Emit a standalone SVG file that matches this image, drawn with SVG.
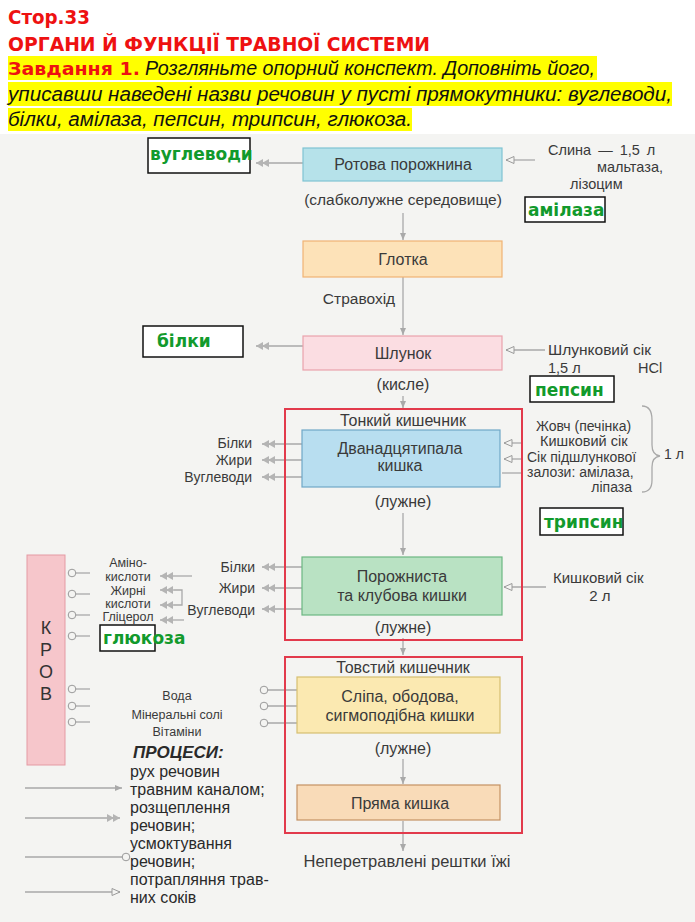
<svg xmlns="http://www.w3.org/2000/svg" width="695" height="922" viewBox="0 0 695 922">
<style>
.t{font-family:"Liberation Sans",Arial,sans-serif;font-size:14px;fill:#3a3a3a}
.b{font-size:16px}
.j{font-size:15px}
.p{font-size:12.5px}
.c{text-anchor:middle}
.e{text-anchor:end}
.g{font-family:"DejaVu Sans",Verdana,sans-serif;font-weight:bold;fill:#129a2c;font-size:17px}
.ans{fill:#fff;stroke:#111;stroke-width:1.5}
.ln{stroke:#a9a9a9;stroke-width:1.3;fill:none}
.red{fill:none;stroke:#e23a4c;stroke-width:2}
.hd{font-family:"DejaVu Sans",Verdana,sans-serif;font-weight:bold;fill:#ee1111}
.it{font-family:"Liberation Sans",Arial,sans-serif;font-style:italic;fill:#111;font-size:20px}
.hl{fill:#ffff00}
.lg{font-size:16px;fill:#2a2a2a}
.kr{font-size:18px;fill:#333}
</style>
<defs>
<marker id="split" viewBox="0 0 14 8" refX="13" refY="4" markerWidth="14" markerHeight="8" markerUnits="userSpaceOnUse" orient="auto"><path d="M0,0 L7,4 L0,8 Z M6,0 L13,4 L6,8 Z" fill="#b4b4b4"/></marker>
<marker id="juice" viewBox="0 0 10 10" refX="9" refY="5" markerWidth="10" markerHeight="10" markerUnits="userSpaceOnUse" orient="auto"><path d="M1,1.5 L9,5 L1,8.5 Z" fill="#f4f4f2" stroke="#9a9a9a" stroke-width="1"/></marker>
<marker id="move" viewBox="0 0 8 8" refX="7" refY="4" markerWidth="8" markerHeight="8" markerUnits="userSpaceOnUse" orient="auto"><path d="M0,1 L7,4 L0,7 Z" fill="#a9a9a9"/></marker>
<marker id="abs" viewBox="0 0 10 10" refX="9" refY="5" markerWidth="10" markerHeight="10" markerUnits="userSpaceOnUse" orient="auto"><circle cx="5" cy="5" r="3.8" fill="#f4f4f2" stroke="#9a9a9a" stroke-width="1"/></marker>
</defs>

<rect x="0" y="0" width="695" height="922" fill="#ffffff"/>
<rect x="0" y="134" width="695" height="788" fill="#f4f4f2"/>

<g id="header">
<text class="hd" x="8" y="24" font-size="19" textLength="82" lengthAdjust="spacingAndGlyphs">Стор.33</text>
<text class="hd" x="8" y="51" font-size="19" textLength="422" lengthAdjust="spacingAndGlyphs">ОРГАНИ Й ФУНКЦІЇ ТРАВНОЇ СИСТЕМИ</text>
<rect class="hl" x="8" y="56" width="589" height="24"/>
<rect class="hl" x="8" y="82" width="664" height="24"/>
<rect class="hl" x="8" y="108" width="404" height="23"/>
<text class="hd" x="8" y="75" font-size="18" textLength="132" lengthAdjust="spacingAndGlyphs">Завдання 1.</text>
<text class="it" x="145" y="75" textLength="450" lengthAdjust="spacingAndGlyphs">Розгляньте опорний конспект. Доповніть його,</text>
<text class="it" x="8" y="101" textLength="664" lengthAdjust="spacingAndGlyphs">уписавши наведені назви речовин у пусті прямокутники: вуглеводи,</text>
<text class="it" x="8" y="126" textLength="404" lengthAdjust="spacingAndGlyphs">білки, амілаза, пепсин, трипсин, глюкоза.</text>
</g>

<g id="connectors">
<line class="ln" x1="303" y1="163" x2="256" y2="163" marker-end="url(#split)"/>
<line class="ln" x1="535" y1="160" x2="506" y2="160" marker-end="url(#juice)"/>
<line class="ln" x1="403" y1="213" x2="403" y2="240" marker-end="url(#move)"/>
<line class="ln" x1="403" y1="277" x2="403" y2="335" marker-end="url(#move)"/>
<line class="ln" x1="303" y1="346" x2="256" y2="346" marker-end="url(#split)"/>
<line class="ln" x1="545" y1="350" x2="506" y2="350" marker-end="url(#juice)"/>
<line class="ln" x1="403" y1="396" x2="403" y2="408" marker-end="url(#move)"/>
<line class="ln" x1="302" y1="444" x2="262" y2="444" marker-end="url(#split)"/>
<line class="ln" x1="302" y1="460" x2="262" y2="460" marker-end="url(#split)"/>
<line class="ln" x1="302" y1="477" x2="262" y2="477" marker-end="url(#split)"/>
<line class="ln" x1="522" y1="443" x2="504" y2="443" marker-end="url(#juice)"/>
<line class="ln" x1="522" y1="459" x2="504" y2="459" marker-end="url(#juice)"/>
<line class="ln" x1="522" y1="473" x2="502" y2="473"/>
<path class="ln" d="M642,406 Q652,406 652,420 L652,445 Q652,455 660,456 Q652,457 652,467 L652,480 Q652,492 642,492"/>
<line class="ln" x1="403" y1="513" x2="403" y2="555" marker-end="url(#move)"/>
<line class="ln" x1="302" y1="567" x2="262" y2="567" marker-end="url(#split)"/>
<line class="ln" x1="302" y1="588" x2="262" y2="588" marker-end="url(#split)"/>
<line class="ln" x1="302" y1="609" x2="262" y2="609" marker-end="url(#split)"/>
<line class="ln" x1="546" y1="587" x2="504" y2="587" marker-end="url(#juice)"/>
<line class="ln" x1="403" y1="638" x2="403" y2="655" marker-end="url(#move)"/>
<line class="ln" x1="192" y1="576" x2="160" y2="576" marker-end="url(#split)"/>
<path class="ln" d="M174,590 L182,590 L182,605 L174,605"/>
<line class="ln" x1="174" y1="590" x2="160" y2="590" marker-end="url(#split)"/>
<line class="ln" x1="174" y1="605" x2="160" y2="605" marker-end="url(#split)"/>
<line class="ln" x1="184" y1="620" x2="160" y2="620" marker-end="url(#split)"/>
<line class="ln" x1="90" y1="573" x2="68" y2="573" marker-end="url(#abs)"/>
<line class="ln" x1="90" y1="594" x2="68" y2="594" marker-end="url(#abs)"/>
<line class="ln" x1="90" y1="615" x2="68" y2="615" marker-end="url(#abs)"/>
<line class="ln" x1="90" y1="636" x2="68" y2="636" marker-end="url(#abs)"/>
<line class="ln" x1="90" y1="689" x2="68" y2="689" marker-end="url(#abs)"/>
<line class="ln" x1="90" y1="706" x2="68" y2="706" marker-end="url(#abs)"/>
<line class="ln" x1="90" y1="722" x2="68" y2="722" marker-end="url(#abs)"/>
<line class="ln" x1="297" y1="690" x2="260" y2="690" marker-end="url(#abs)"/>
<line class="ln" x1="297" y1="706" x2="260" y2="706" marker-end="url(#abs)"/>
<line class="ln" x1="297" y1="723" x2="260" y2="723" marker-end="url(#abs)"/>
<line class="ln" x1="403" y1="759" x2="403" y2="784" marker-end="url(#move)"/>
<line class="ln" x1="403" y1="821" x2="403" y2="851" marker-end="url(#move)"/>
<line class="ln" x1="25" y1="788" x2="122" y2="788" marker-end="url(#move)"/>
<line class="ln" x1="25" y1="818" x2="120" y2="818" marker-end="url(#split)"/>
<line class="ln" x1="25" y1="857" x2="130" y2="857" marker-end="url(#abs)"/>
<line class="ln" x1="25" y1="892" x2="120" y2="892" marker-end="url(#juice)"/>
</g>

<g id="answer-vuglevody">
<rect class="ans" x="148" y="138" width="102" height="35"/>
<text class="g" x="150" y="160">вуглеводи</text>
</g>
<g id="mouth">
<rect x="303" y="148" width="199" height="33" fill="#b6e2ea" stroke="#7fc4d2" stroke-width="1.2"/>
<text class="t b c" x="403" y="170">Ротова порожнина</text>
<text class="t c" x="403" y="205" style="font-size:15.5px">(слабколужне середовище)</text>
</g>
<g id="saliva">
<text class="t" x="548" y="155" style="font-size:14.5px" word-spacing="3">Слина — 1,5 л</text>
<text class="t e" x="663" y="172" style="font-size:14.5px">мальтаза,</text>
<text class="t" x="570" y="189" style="font-size:14.5px">лізоцим</text>
</g>
<g id="answer-amilaza">
<rect class="ans" x="525" y="197" width="80" height="25"/>
<text class="g" x="528" y="216">амілаза</text>
</g>
<g id="pharynx">
<rect x="303" y="241" width="199" height="36" fill="#fde2b8" stroke="#f0b374" stroke-width="1.2"/>
<text class="t b c" x="403" y="265">Глотка</text>
<text class="t c" x="359" y="304" style="font-size:15.5px">Стравохід</text>
</g>
<g id="answer-bilky">
<rect class="ans" x="143" y="326" width="100" height="31"/>
<text class="g" x="157" y="347">білки</text>
</g>
<g id="stomach">
<rect x="303" y="336" width="199" height="34" fill="#fbdde2" stroke="#e9a2ac" stroke-width="1.2"/>
<text class="t b c" x="403" y="359">Шлунок</text>
<text class="t b c" x="403" y="390">(кисле)</text>
</g>
<g id="gastric-juice">
<text class="t" x="548" y="355" style="font-size:15.5px">Шлунковий сік</text>
<text class="t" x="548" y="373" style="font-size:14.5px">1,5 л</text>
<text class="t" x="638" y="373" style="font-size:14.5px">HCl</text>
</g>
<g id="answer-pepsyn">
<rect class="ans" x="530" y="376" width="84" height="26"/>
<text class="g" x="535" y="396">пепсин</text>
</g>
<g id="small-intestine">
<rect class="red" x="285" y="409" width="237" height="231"/>
<text class="t b c" x="403" y="426">Тонкий кишечник</text>
</g>
<g id="duodenum">
<rect x="302" y="430" width="198" height="57" fill="#b8def0" stroke="#6fa7c7" stroke-width="1.2"/>
<text class="t b c" x="400" y="454">Дванадцятипала</text>
<text class="t b c" x="400" y="471">кишка</text>
<text class="t b c" x="403" y="507">(лужне)</text>
<text class="t e" x="252" y="448">Білки</text>
<text class="t e" x="252" y="465">Жири</text>
<text class="t e" x="252" y="482">Вуглеводи</text>
</g>
<g id="juices">
<text class="t" x="536" y="431">Жовч (печінка)</text>
<text class="t" x="540" y="446" style="font-size:14.5px">Кишковий сік</text>
<text class="t" x="527" y="462">Сік підшлункової</text>
<text class="t" x="527" y="477">залози: амілаза,</text>
<text class="t e" x="632" y="492">ліпаза</text>
<text class="t" x="664" y="459">1 л</text>
</g>
<g id="answer-trypsyn">
<rect class="ans" x="540" y="508" width="83" height="27"/>
<text class="g" x="544" y="528">трипсин</text>
</g>
<g id="jejunum">
<rect x="302" y="557" width="200" height="58" fill="#b9e2c3" stroke="#6cb782" stroke-width="1.2"/>
<text class="t b c" x="402" y="582">Порожниста</text>
<text class="t b c" x="402" y="601">та клубова кишки</text>
<text class="t b c" x="403" y="633">(лужне)</text>
<text class="t e" x="255" y="572">Білки</text>
<text class="t e" x="255" y="593">Жири</text>
<text class="t e" x="255" y="615">Вуглеводи</text>
<text class="t j" x="553" y="583">Кишковий сік</text>
<text class="t j c" x="600" y="601">2 л</text>
</g>
<g id="blood">
<rect x="27" y="555" width="38" height="210" fill="#f6c6cb" stroke="#e49aa3" stroke-width="1"/>
<text class="t kr c" x="46" y="634">К</text>
<text class="t kr c" x="46" y="656">Р</text>
<text class="t kr c" x="46" y="678">О</text>
<text class="t kr c" x="46" y="700">В</text>
</g>
<g id="products">
<text class="t p c" x="128" y="567">Аміно-</text>
<text class="t p c" x="128" y="581">кислоти</text>
<text class="t p c" x="128" y="595">Жирні</text>
<text class="t p c" x="128" y="608">кислоти</text>
<text class="t p c" x="128" y="621">Гліцерол</text>
</g>
<g id="answer-glukoza">
<rect class="ans" x="100" y="625" width="55" height="26"/>
<text class="g" x="103" y="644">глюкоза</text>
</g>
<g id="large-intestine">
<rect class="red" x="285" y="657" width="237" height="176"/>
<text class="t b c" x="403" y="673">Товстий кишечник</text>
</g>
<g id="colon">
<rect x="297" y="677" width="203" height="56" fill="#fbe9b1" stroke="#d6be70" stroke-width="1.2"/>
<text class="t b c" x="400" y="702">Сліпа, ободова,</text>
<text class="t b c" x="400" y="721">сигмоподібна кишки</text>
<text class="t b c" x="403" y="754">(лужне)</text>
<text class="t p c" x="177" y="700">Вода</text>
<text class="t p c" x="177" y="719">Мінеральні солі</text>
<text class="t p c" x="177" y="736">Вітаміни</text>
</g>
<g id="rectum">
<rect x="297" y="785" width="203" height="35" fill="#f9dbb8" stroke="#c39163" stroke-width="1.2"/>
<text class="t b c" x="400" y="809">Пряма кишка</text>
<text class="t c" x="407" y="867" style="font-size:16.5px">Неперетравлені рештки їжі</text>
</g>
<g id="legend">
<text class="t lg" x="133" y="758" style="font-size:17px;font-weight:bold;font-style:italic">ПРОЦЕСИ:</text>
<text class="t lg" x="130" y="777">рух речовин</text>
<text class="t lg" x="130" y="795">травним каналом;</text>
<text class="t lg" x="130" y="813">розщеплення</text>
<text class="t lg" x="130" y="831">речовин;</text>
<text class="t lg" x="130" y="849">усмоктування</text>
<text class="t lg" x="130" y="867">речовин;</text>
<text class="t lg" x="130" y="885">потрапляння трав-</text>
<text class="t lg" x="130" y="903">них соків</text>
</g>
</svg>
